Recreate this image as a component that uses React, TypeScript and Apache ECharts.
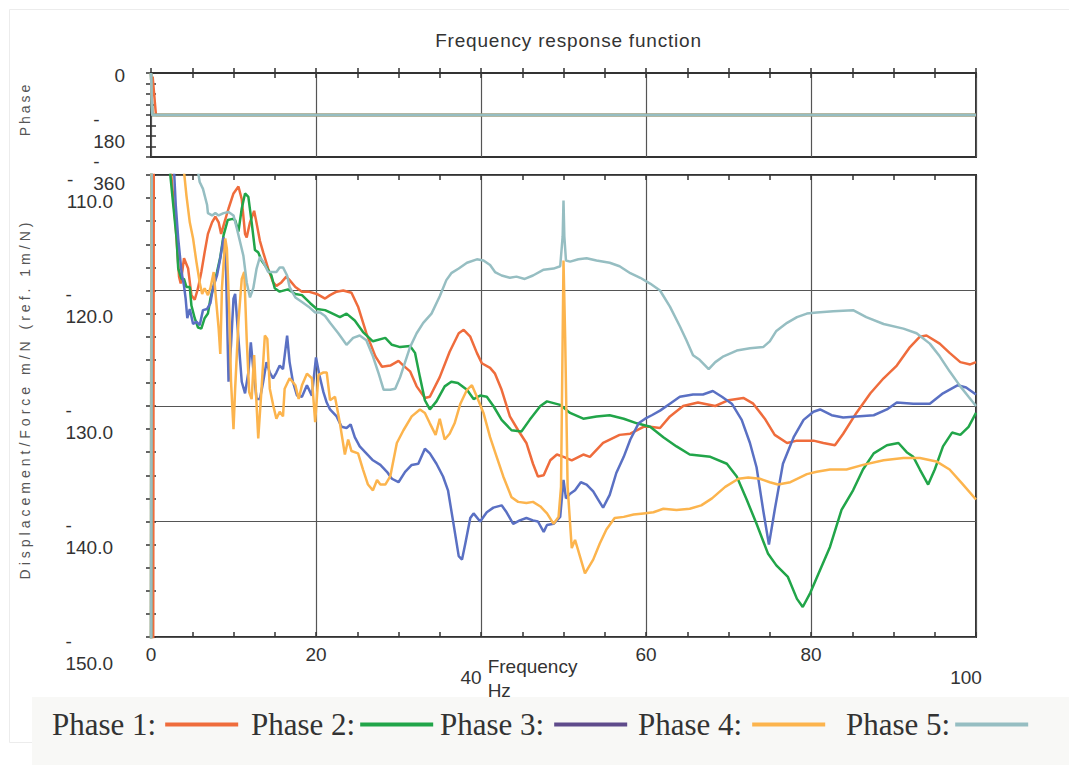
import { useEffect, useRef } from "react";
import * as echarts from "echarts";

// Series names and colours
const phaseNames = ["Phase 1", "Phase 2", "Phase 3", "Phase 4", "Phase 5"];
const lineColors = ["#ef6c3c", "#21a549", "#5a70c3", "#fcb44d", "#96bec2"];
const legendIconColors = ["#ef6c3c", "#21a549", "#5f4b8b", "#fcb44d", "#96bec2"];
const legendLefts = [52, 251, 440, 638, 846];
const legendTextGaps = [4, 0, 5, 5, 0];

// Axis ranges
const freqRange = [0, 100];
const magnitudeRange = [-150, -110];
const phaseRange = [-360, 0];

// Phase (deg) against frequency (Hz)
const phaseAngle1 = [[0.2, -15], [0.6, -180], [100, -180]];
const phaseAngle2 = [[0, 0], [0.15, -180], [100, -180]];
const phaseAngle3 = [[0, 0], [0.15, -180], [100, -180]];
const phaseAngle4 = [[0, 0], [0.15, -180], [100, -180]];
const phaseAngle5 = [[0, 0], [0.15, -180], [100, -180]];

// Displacement/Force (dB ref. 1 m/N) against frequency (Hz)
const magnitude1 = [[0.25,-160],[0.35,-100],[2.0,-102],[2.4,-109.5],[3.0,-114.5],[3.4,-118.8],[3.6,-119.4],[4.0,-117.2],[4.5,-118.1],[4.9,-120.4],[5.3,-120.8],[5.7,-119.8],[6.1,-118.4],[6.5,-116.7],[6.9,-115.1],[7.4,-114.1],[7.8,-113.6],[8.2,-114.1],[8.5,-115.1],[8.9,-114.1],[9.4,-112.9],[10.0,-111.6],[10.6,-111.0],[11.0,-112.1],[11.4,-115.1],[11.6,-115.4],[12.0,-114.1],[12.5,-113.1],[12.7,-113.8],[13.2,-115.7],[13.6,-116.7],[14.2,-118.1],[14.8,-119.3],[15.2,-119.6],[15.8,-119.3],[16.4,-118.8],[16.8,-119.1],[17.5,-119.7],[18.3,-120.1],[19.1,-120.1],[20.1,-120.3],[21.1,-120.7],[21.7,-120.4],[22.5,-120.1],[23.3,-120.0],[24.3,-120.2],[25.1,-121.4],[26.1,-123.7],[27.2,-125.7],[28.0,-126.6],[29.0,-126.5],[30.0,-126.1],[30.6,-126.5],[31.4,-127.0],[32.2,-128.3],[33.2,-129.3],[33.8,-129.2],[35.0,-127.5],[36.2,-125.3],[37.3,-123.7],[37.9,-123.4],[38.7,-124.0],[39.5,-125.4],[40.1,-126.3],[41.1,-126.7],[41.7,-127.2],[42.5,-128.6],[43.5,-130.9],[44.5,-132.1],[45.5,-133.2],[46.3,-135.0],[46.9,-136.1],[47.6,-136.0],[48.4,-134.7],[49.2,-134.2],[50.0,-134.4],[51.0,-134.7],[52.4,-134.2],[53.2,-134.4],[54.8,-133.2],[56.8,-132.5],[58.1,-132.4],[59.7,-131.8],[60.5,-131.8],[61.7,-131.9],[62.9,-130.9],[64.5,-130.0],[66.3,-129.7],[68.4,-130.0],[70.0,-129.5],[71.8,-129.3],[73.0,-129.8],[74.4,-131.1],[75.6,-132.5],[77.1,-133.2],[78.3,-133.0],[80.3,-133.0],[81.5,-133.2],[82.9,-133.4],[83.9,-132.4],[85.5,-130.6],[87.2,-128.9],[88.8,-127.6],[90.4,-126.5],[92.0,-124.9],[93.2,-124.0],[94.0,-123.9],[95.6,-124.6],[96.8,-125.4],[98.1,-126.2],[99.3,-126.4],[100,-126.2]];

const magnitude2 = [[0,-160],[0.05,-100],[2.0,-103],[2.3,-109.7],[2.7,-112.6],[3.1,-115.5],[3.3,-118.1],[3.7,-119.0],[4.0,-119.0],[4.3,-119.7],[4.7,-119.7],[4.9,-121.3],[5.3,-122.4],[5.7,-123.2],[6.1,-123.3],[6.5,-122.4],[6.9,-122.0],[7.2,-120.7],[7.6,-119.6],[8.0,-118.4],[8.4,-117.1],[8.8,-115.2],[9.3,-113.9],[9.9,-113.8],[10.2,-113.9],[10.6,-114.9],[11.0,-112.9],[11.4,-111.6],[11.8,-111.9],[12.2,-114.1],[12.6,-116.5],[13.0,-116.7],[13.4,-117.4],[14.0,-118.0],[14.6,-118.7],[15.0,-119.8],[15.6,-120.1],[16.6,-119.9],[17.5,-120.3],[18.3,-120.4],[19.3,-121.1],[20.1,-121.6],[21.1,-121.7],[21.7,-121.9],[22.9,-122.3],[23.7,-122.0],[24.7,-122.6],[25.7,-123.6],[26.9,-124.4],[28.4,-124.1],[29.2,-124.7],[30.2,-124.9],[31.4,-124.8],[32.0,-125.4],[32.6,-127.5],[33.2,-129.5],[33.8,-130.3],[34.6,-129.6],[35.6,-128.3],[36.4,-127.9],[37.2,-128.0],[38.3,-128.6],[39.1,-129.4],[39.9,-129.1],[40.7,-129.2],[41.5,-130.0],[42.5,-131.2],[43.7,-132.1],[44.9,-132.2],[45.9,-131.2],[47.2,-130.0],[48.0,-129.6],[49.6,-129.9],[50.8,-130.6],[52.4,-131.1],[54.0,-130.9],[55.6,-130.8],[57.3,-131.1],[58.9,-131.5],[60.5,-131.8],[62.1,-132.7],[63.7,-133.5],[65.3,-134.2],[67.8,-134.4],[69.8,-135.0],[71.0,-136.1],[72.2,-138.1],[73.4,-140.2],[74.8,-142.8],[75.8,-143.8],[77.2,-144.8],[78.3,-146.7],[79.0,-147.4],[79.9,-146.2],[81.1,-144.2],[82.3,-142.2],[83.7,-139.0],[85.1,-137.3],[86.3,-135.5],[87.6,-134.1],[89.2,-133.4],[90.6,-133.2],[91.6,-134.0],[92.4,-134.4],[93.2,-135.5],[94.2,-136.8],[95.0,-135.5],[96.0,-133.5],[97.1,-132.3],[98.1,-132.5],[99.1,-131.8],[100,-130.6]];

const magnitude3 = [[0,-160],[0.05,-100],[2.4,-103],[2.8,-109.7],[3.0,-112.6],[3.3,-115.5],[3.7,-118.4],[4.0,-119.6],[4.2,-120.7],[4.4,-122.4],[4.7,-121.6],[5.1,-122.9],[5.5,-122.7],[5.9,-123.0],[6.3,-121.7],[6.8,-121.6],[7.2,-121.1],[7.5,-119.8],[8.0,-118.7],[8.4,-117.2],[8.8,-115.4],[9.1,-118.4],[9.4,-127.9],[9.7,-124.7],[10.0,-120.7],[10.2,-120.3],[10.6,-124.2],[11.0,-127.9],[11.4,-128.9],[11.8,-127.1],[12.1,-124.5],[12.4,-126.8],[12.8,-129.4],[13.2,-129.4],[13.6,-127.9],[14.0,-126.2],[14.4,-127.1],[14.8,-127.6],[15.2,-127.1],[15.6,-126.5],[16.0,-126.8],[16.5,-123.9],[16.8,-126.2],[17.2,-127.9],[17.7,-129.1],[18.3,-129.2],[18.9,-128.2],[19.5,-129.1],[20.0,-125.8],[20.4,-127.3],[20.9,-128.8],[21.3,-129.7],[21.7,-130.3],[22.5,-130.9],[23.1,-131.8],[23.7,-131.9],[24.2,-131.6],[24.7,-132.7],[25.3,-133.5],[26.1,-134.1],[26.9,-134.7],[27.8,-135.1],[28.6,-135.7],[29.2,-136.3],[30.0,-136.6],[30.8,-135.7],[31.6,-135.1],[32.4,-135.0],[33.2,-133.7],[33.8,-134.1],[34.6,-135.0],[35.4,-136.1],[36.0,-137.3],[36.6,-139.9],[37.3,-143.0],[37.7,-143.3],[38.1,-141.9],[38.7,-139.7],[39.1,-139.3],[39.9,-140.0],[40.7,-139.2],[41.5,-138.8],[42.5,-138.6],[43.1,-139.2],[43.9,-140.2],[44.7,-139.9],[45.5,-139.7],[46.3,-139.9],[46.9,-140.0],[47.6,-140.9],[48.0,-140.3],[48.8,-140.2],[49.6,-139.6],[50.0,-136.4],[50.3,-138.0],[50.8,-137.6],[51.4,-137.3],[52.1,-136.6],[52.8,-136.8],[53.6,-137.4],[54.2,-138.1],[54.8,-138.8],[55.6,-137.7],[56.4,-135.8],[57.3,-134.4],[58.1,-132.9],[59.1,-131.5],[59.9,-131.1],[60.7,-130.8],[61.7,-130.4],[62.9,-129.8],[64.1,-129.2],[65.7,-129.0],[66.9,-129.0],[68.1,-128.7],[69.2,-129.2],[70.4,-129.8],[71.6,-131.2],[72.6,-133.2],[73.4,-135.3],[74.2,-139.0],[74.9,-142.0],[75.6,-139.0],[76.6,-135.0],[77.9,-132.7],[79.1,-131.2],[80.3,-130.5],[81.1,-130.3],[82.5,-130.8],[83.9,-131.0],[85.5,-130.9],[87.6,-130.8],[89.2,-130.3],[90.4,-129.7],[92.4,-129.8],[94.4,-129.8],[96.0,-128.9],[97.8,-128.2],[98.8,-128.4],[100,-129.0]];

const magnitude4 = [[0,-160],[0.05,-100],[3.5,-104],[4.0,-109.7],[4.3,-111.8],[4.7,-114.1],[5.1,-115.5],[5.5,-117.5],[5.9,-119.3],[6.2,-120.3],[6.5,-119.8],[6.9,-120.4],[7.2,-119.8],[7.6,-118.4],[7.8,-120.1],[8.2,-123.3],[8.4,-125.5],[8.6,-119.8],[9.0,-115.5],[9.2,-116.4],[9.5,-122.1],[9.7,-127.9],[10.0,-132.0],[10.2,-128.5],[10.6,-122.7],[11.0,-119.0],[11.3,-118.4],[11.6,-124.2],[11.9,-128.8],[12.2,-129.4],[12.5,-125.6],[12.7,-128.5],[13.0,-132.8],[13.4,-128.5],[13.8,-123.9],[14.1,-124.2],[14.4,-128.5],[14.8,-129.9],[15.2,-131.1],[15.6,-130.5],[16.0,-130.9],[16.2,-128.5],[16.8,-127.6],[17.5,-128.2],[17.9,-129.4],[18.3,-128.2],[18.9,-127.2],[19.5,-127.6],[19.9,-131.4],[20.3,-127.3],[20.9,-127.1],[21.3,-127.1],[21.7,-129.5],[22.3,-129.2],[22.9,-131.5],[23.5,-134.2],[23.9,-132.9],[24.3,-133.9],[25.1,-134.1],[25.7,-135.5],[26.3,-136.8],[26.9,-137.3],[27.4,-136.4],[27.8,-136.8],[28.4,-136.8],[29.0,-136.1],[29.8,-133.2],[30.6,-132.1],[31.6,-130.9],[32.6,-130.3],[33.2,-130.6],[33.8,-131.5],[34.5,-132.5],[35.0,-131.1],[35.6,-132.9],[36.2,-132.4],[36.8,-131.5],[37.5,-129.8],[38.3,-128.6],[38.9,-128.2],[39.5,-129.2],[40.3,-130.6],[41.1,-132.7],[41.9,-134.4],[42.7,-136.1],[43.7,-137.9],[44.5,-138.3],[45.5,-138.4],[46.3,-138.3],[47.2,-138.7],[48.0,-139.3],[48.8,-140.2],[49.4,-139.6],[49.7,-137.0],[50.0,-117.4],[50.2,-124.0],[50.5,-137.0],[51.0,-142.3],[51.4,-141.6],[51.7,-142.3],[52.6,-144.5],[53.6,-143.3],[54.4,-141.9],[55.2,-140.7],[56.2,-139.7],[57.3,-139.6],[58.5,-139.4],[59.7,-139.3],[60.9,-139.2],[62.1,-138.9],[63.7,-139.0],[65.3,-138.9],[66.7,-138.6],[68.0,-138.0],[69.6,-137.0],[71.2,-136.3],[72.4,-136.2],[73.8,-136.3],[75.0,-136.6],[76.0,-136.8],[77.5,-136.6],[79.5,-135.9],[80.7,-135.7],[82.3,-135.5],[84.3,-135.5],[86.3,-135.1],[88.8,-134.7],[91.2,-134.5],[93.2,-134.5],[95.2,-134.8],[96.8,-135.5],[98.3,-136.7],[100,-138.1]];

const magnitude5 = [[0,-160],[0.1,-100],[5.5,-104],[5.7,-109.7],[5.9,-110.6],[6.3,-111.2],[6.8,-112.6],[6.9,-113.3],[7.4,-113.5],[7.8,-113.3],[8.2,-113.5],[8.8,-113.3],[9.4,-113.2],[10.0,-113.5],[10.4,-114.6],[10.8,-115.8],[11.2,-117.0],[11.6,-119.3],[12.0,-120.6],[12.4,-119.8],[12.8,-118.1],[13.2,-117.1],[13.6,-117.5],[14.2,-118.4],[14.6,-118.4],[15.2,-118.4],[15.6,-118.0],[16.0,-118.0],[16.5,-118.7],[16.8,-119.7],[17.5,-120.6],[18.3,-121.0],[19.1,-121.4],[19.9,-121.9],[20.5,-121.9],[21.1,-122.2],[21.7,-122.8],[22.7,-123.7],[23.7,-124.7],[24.5,-124.1],[25.3,-123.9],[26.1,-124.3],[26.9,-125.7],[27.6,-127.2],[28.2,-128.6],[29.0,-128.6],[29.6,-128.5],[30.2,-127.5],[30.8,-126.2],[31.4,-124.9],[32.2,-123.7],[33.0,-122.8],[34.0,-122.0],[35.0,-120.5],[35.8,-119.1],[36.4,-118.5],[37.3,-118.1],[38.3,-117.6],[39.5,-117.3],[40.3,-117.4],[41.1,-117.8],[41.7,-118.4],[42.5,-118.7],[43.5,-118.9],[44.3,-118.8],[45.3,-119.0],[46.3,-118.7],[47.6,-118.2],[48.8,-118.1],[49.6,-117.9],[49.9,-115.3],[50.0,-112.2],[50.1,-115.3],[50.3,-117.4],[50.8,-117.5],[51.8,-117.3],[52.8,-117.2],[54.0,-117.4],[55.6,-117.6],[56.8,-117.9],[58.1,-118.5],[59.3,-118.9],[60.5,-119.4],[61.7,-120.0],[62.9,-121.4],[64.1,-123.1],[64.9,-124.3],[65.7,-125.6],[66.5,-126.0],[67.6,-126.8],[68.4,-126.2],[69.4,-125.7],[71.0,-125.2],[72.6,-125.0],[74.2,-124.9],[75.0,-124.4],[75.8,-123.5],[77.1,-122.8],[78.3,-122.3],[79.5,-122.0],[80.7,-121.9],[82.7,-121.8],[85.1,-121.7],[86.7,-122.3],[88.8,-122.9],[91.2,-123.3],[92.8,-123.7],[94.4,-124.6],[95.6,-125.7],[96.8,-127.0],[98.1,-128.3],[99.1,-129.2],[100,-130.0]];

const phaseSets = [phaseAngle1, phaseAngle2, phaseAngle3, phaseAngle4, phaseAngle5];
const magnitudeSets = [magnitude1, magnitude2, magnitude3, magnitude4, magnitude5];

const chartTitle = "Frequency response function";
const magnitudeName = "Displacement/Force m/N (ref. 1m/N)";
const phaseName = "Phase";
const freqName = "Frequency";
const freqUnit = "Hz";

const sans = "'Liberation Sans', Arial, sans-serif";
const serif = "'Liberation Serif', 'Times New Roman', serif";
const ink = "#333333";

const tickStyle = { show: true, inside: true, length: 5, lineStyle: { color: ink, width: 1.5 } };

function freqAxis(gridIndex: number, position: "top" | "bottom", withLabels: boolean, withSplit: boolean) {
  return {
    type: "value",
    gridIndex,
    position,
    min: freqRange[0],
    max: freqRange[1],
    interval: 20,
    axisLine: { show: false },
    axisTick: tickStyle,
    minorTick: { ...tickStyle, splitNumber: 4 },
    splitLine: { show: withSplit, lineStyle: { color: "#555555", width: 1.2 } },
    axisLabel: withLabels
      ? {
          show: true,
          margin: 8,
          color: ink,
          fontFamily: sans,
          fontSize: 19,
          formatter: (v: number) => (v === 40 || v === 100 ? `{low|${v}}` : `${v}`),
          rich: { low: { padding: [23, 20, 0, 0] } },
        }
      : { show: false },
    ...(withLabels
      ? {
          name: `{a|${freqName}}\n{a|${freqUnit}}`,
          nameLocation: "middle",
          nameGap: 17,
          nameMoveOverlap: false,
          nameTextStyle: {
            color: ink,
            fontFamily: sans,
            fontSize: 19,
            padding: [0, 62, 0, 0],
            rich: { a: { align: "left", lineHeight: 24, fontSize: 19, fontFamily: sans, color: ink } },
          },
        }
      : {}),
  };
}

export default function App() {
  const ref = useRef<HTMLDivElement | null>(null);

  useEffect(() => {
    const el = ref.current;
    if (!el) return;
    const chart = echarts.init(el, undefined, { renderer: "svg" });

    const phaseSeries = phaseSets.map((d, i) => ({
      name: phaseNames[i],
      type: "line",
      xAxisIndex: 0,
      yAxisIndex: 0,
      data: d,
      showSymbol: false,
      symbol: "none",
      clip: true,
      lineStyle: { color: lineColors[i], width: 2.5 },
      itemStyle: { color: lineColors[i] },
    }));

    const magnitudeSeries = magnitudeSets.map((d, i) => ({
      name: phaseNames[i],
      type: "line",
      xAxisIndex: 2,
      yAxisIndex: 2,
      data: d,
      showSymbol: false,
      symbol: "none",
      clip: true,
      lineStyle: { color: lineColors[i], width: 2.5 },
      itemStyle: { color: lineColors[i] },
    }));

    const legends = phaseNames.map((n, i) => ({
      show: true,
      left: legendLefts[i],
      top: 709,
      padding: 0,
      orient: "horizontal",
      align: "right",
      icon: "rect",
      itemWidth: 73,
      itemHeight: 4,
      selectedMode: false,
      textStyle: { fontFamily: serif, fontSize: 31, color: ink, padding: [0, legendTextGaps[i], 0, 0] },
      formatter: (name: string) => `${name}:`,
      data: [{ name: n, icon: "rect", itemStyle: { color: legendIconColors[i] } }],
    }));

    chart.setOption({
      animation: false,
      backgroundColor: "#ffffff",
      title: {
        text: chartTitle,
        left: 563.5,
        textAlign: "center",
        top: 26,
        textStyle: { fontFamily: sans, fontSize: 19, fontWeight: "normal", color: ink },
      },
      graphic: [
        {
          type: "rect",
          z: -10,
          shape: { x: 9.5, y: 9.5, width: 1100, height: 733 },
          style: { fill: "none", stroke: "#ececec", lineWidth: 1 },
          silent: true,
        },
        {
          type: "rect",
          z: -9,
          shape: { x: 32, y: 697, width: 1037, height: 68 },
          style: { fill: "#f8f8f6" },
          silent: true,
        },
      ],
      legend: legends,
      grid: [
        { left: 151, top: 73, width: 825, height: 84, show: true, borderColor: ink, borderWidth: 2, backgroundColor: "transparent" },
        { left: 151, top: 175, width: 825, height: 462, show: true, borderColor: ink, borderWidth: 2, backgroundColor: "transparent" },
      ],
      xAxis: [
        freqAxis(0, "bottom", false, true),
        freqAxis(0, "top", false, false),
        freqAxis(1, "bottom", true, true),
        freqAxis(1, "top", false, false),
      ],
      yAxis: [
        {
          type: "value",
          gridIndex: 0,
          position: "left",
          min: phaseRange[0],
          max: phaseRange[1],
          interval: 180,
          axisLine: { show: false },
          axisTick: tickStyle,
          minorTick: { ...tickStyle, splitNumber: 4 },
          splitLine: { show: false },
          axisLabel: {
            margin: 26,
            color: ink,
            fontFamily: sans,
            fontSize: 19,
            verticalAlign: "top",
            formatter: (v: number) => (v === 0 ? "{z|0}" : `{m|-}\n{n|${Math.abs(v)}}`),
            rich: {
              z: { lineHeight: 4 },
              m: { lineHeight: 8, align: "left" },
              n: { lineHeight: 36 },
            },
          },
          name: phaseName,
          nameLocation: "middle",
          nameRotate: 90,
          nameGap: 119,
          nameMoveOverlap: false,
          nameTextStyle: { fontFamily: sans, fontSize: 14, color: "#555555", padding: [0, 0, 0, 12] },
        },
        {
          type: "value",
          gridIndex: 0,
          position: "right",
          min: phaseRange[0],
          max: phaseRange[1],
          interval: 180,
          axisLine: { show: false },
          axisTick: tickStyle,
          minorTick: { ...tickStyle, splitNumber: 4 },
          splitLine: { show: false },
          axisLabel: { show: false },
        },
        {
          type: "value",
          gridIndex: 1,
          position: "left",
          min: magnitudeRange[0],
          max: magnitudeRange[1],
          interval: 10,
          axisLine: { show: false },
          axisTick: tickStyle,
          minorTick: { ...tickStyle, splitNumber: 5 },
          splitLine: { show: true, lineStyle: { color: "#555555", width: 1.2 } },
          axisLabel: {
            margin: 38,
            color: ink,
            fontFamily: sans,
            fontSize: 19,
            verticalAlign: "top",
            formatter: (v: number) => `{m|-}\n{n|${Math.abs(v).toFixed(1)}}`,
            rich: {
              m: { lineHeight: 8, align: "left" },
              n: { lineHeight: 36 },
            },
          },
          name: magnitudeName,
          nameLocation: "middle",
          nameRotate: 90,
          nameGap: 119,
          nameMoveOverlap: false,
          nameTextStyle: { fontFamily: sans, fontSize: 14, color: "#555555", padding: [0, 0, 0, 14] },
        },
        {
          type: "value",
          gridIndex: 1,
          position: "right",
          min: magnitudeRange[0],
          max: magnitudeRange[1],
          interval: 10,
          axisLine: { show: false },
          axisTick: tickStyle,
          minorTick: { ...tickStyle, splitNumber: 5 },
          splitLine: { show: false },
          axisLabel: { show: false },
        },
      ],
      series: [...phaseSeries, ...magnitudeSeries],
    });

    // Tracked lettering on the rotated axis names and the title
    const applySpacing = () => {
      el.querySelectorAll("text").forEach((t) => {
        const s = t.textContent;
        if (s === magnitudeName) t.setAttribute("letter-spacing", "4");
        if (s === phaseName) t.setAttribute("letter-spacing", "3");
        if (s === chartTitle) t.setAttribute("letter-spacing", "0.8");
      });
    };
    applySpacing();
    chart.on("finished", applySpacing);

    return () => {
      chart.dispose();
    };
  }, []);

  return <div ref={ref} style={{ position: "absolute", left: 0, top: 0, width: 1069, height: 765 }} />;
}
